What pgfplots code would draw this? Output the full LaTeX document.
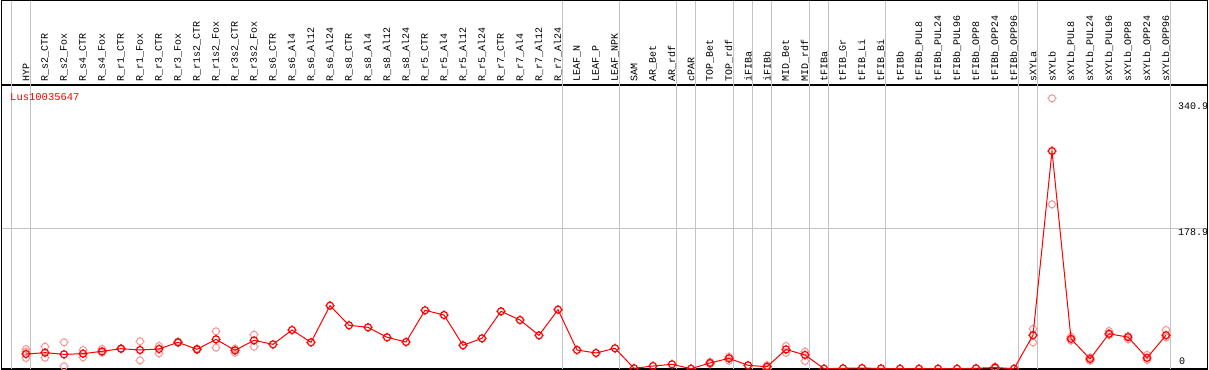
\documentclass[border=0pt]{standalone}
\usepackage{pgfplots}
\pgfplotsset{compat=1.18}
\usepackage{pgfplotstable}
\usepackage{fontspec}
\setmainfont{Liberation Mono}
\setmonofont{Liberation Mono}
\definecolor{gridgray}{RGB}{195,195,195}
\definecolor{reppink}{RGB}{240,150,150}
\pgfdeclareplotmark{xo}{%
  \pgfpathcircle{\pgfpointorigin}{\pgfplotmarksize}%
  \pgfpathmoveto{\pgfqpoint{0pt}{\pgfplotmarksize}}\pgfpathlineto{\pgfqpoint{0pt}{1.3\pgfplotmarksize}}%
  \pgfpathmoveto{\pgfqpoint{0pt}{-\pgfplotmarksize}}\pgfpathlineto{\pgfqpoint{0pt}{-1.3\pgfplotmarksize}}%
  \pgfpathmoveto{\pgfqpoint{\pgfplotmarksize}{0pt}}\pgfpathlineto{\pgfqpoint{1.3\pgfplotmarksize}{0pt}}%
  \pgfpathmoveto{\pgfqpoint{-\pgfplotmarksize}{0pt}}\pgfpathlineto{\pgfqpoint{-1.3\pgfplotmarksize}{0pt}}%
  \pgfusepathqstroke}

\pgfplotstableread{
k v
0 18.7
1 20.4
2 18.3
3 19.1
4 22.1
5 25.5
6 23.8
7 25.1
8 33.6
9 24.7
10 37.4
11 23.4
12 36.1
13 31.0
14 49.3
15 33.6
16 80.3
17 55.3
18 52.7
19 40.0
20 34.0
21 74.4
22 68.4
23 29.8
24 38.7
25 73.1
26 62.0
27 42.5
28 75.2
29 23.8
30 20.0
31 26.0
32 0.5
33 3.4
34 5.6
35 0
36 7.3
37 13.2
38 4.3
39 2.5
40 24.5
41 17.5
42 0
43 0.5
44 0.8
45 0.3
46 0
47 0
48 0
49 0
50 0.5
51 1.5
52 0
53 42.7
54 277.3
55 38.0
56 12.4
57 44.5
58 40.2
59 13.8
60 42.7
}\mainT

\pgfplotstableread{
k v
0 25.0
0 21.5
0 13.6
1 28.0
1 14.0
2 33.6
2 3.0
3 23.8
3 14.5
4 25.1
4 20.4
5 26.0
5 25.0
6 34.9
6 10.7
7 28.9
7 19.6
8 34.5
8 32.8
9 25.5
9 24.0
10 47.6
10 26.8
11 25.5
11 20.4
12 43.3
12 28.0
36 8.5
36 6.0
37 15.3
37 10.2
39 4.5
39 0.5
40 28.9
40 20.2
41 21.7
41 9.8
51 2.5
51 0.5
53 50.6
53 33.6
54 344.4
54 209.4
55 40.8
55 35.7
56 14.5
56 10.2
57 48.0
57 42.9
58 41.7
58 37.5
59 17.5
59 11.1
60 49.3
60 40.0
}\repT

\begin{document}
\begin{tikzpicture}
\begin{axis}[
  scale only axis, width=1206bp, height=284bp,
  xmin=-1.2895, xmax=62.184, ymin=-0.38, ymax=361.4,
  axis line style={black, line width=1.2bp},
  clip mode=individual,
  xtick={0,...,60},
  xticklabels={HYP, R\_s2\_CTR, R\_s2\_Fox, R\_s4\_CTR, R\_s4\_Fox, R\_r1\_CTR, R\_r1\_Fox, R\_r3\_CTR, R\_r3\_Fox, R\_r1s2\_CTR, R\_r1s2\_Fox, R\_r3s2\_CTR, R\_r3s2\_Fox, R\_s6\_CTR, R\_s6\_Al4, R\_s6\_Al12, R\_s6\_Al24, R\_s8\_CTR, R\_s8\_Al4, R\_s8\_Al12, R\_s8\_Al24, R\_r5\_CTR, R\_r5\_Al4, R\_r5\_Al12, R\_r5\_Al24, R\_r7\_CTR, R\_r7\_Al4, R\_r7\_Al12, R\_r7\_Al24, LEAF\_N, LEAF\_P, LEAF\_NPK, SAM, AR\_Bet, AR\_rdf, cPAR, TOP\_Bet, TOP\_rdf, iFIBa, iFIBb, MID\_Bet, MID\_rdf, tFIBa, tFIB\_Gr, tFIB\_Li, tFIB\_Bi, tFIBb, tFIBb\_PUL8, tFIBb\_PUL24, tFIBb\_PUL96, tFIBb\_OPP8, tFIBb\_OPP24, tFIBb\_OPP96, sXYLa, sXYLb, sXYLb\_PUL8, sXYLb\_PUL24, sXYLb\_PUL96, sXYLb\_OPP8, sXYLb\_OPP24, sXYLb\_OPP96},
  xticklabel pos=right,
  xticklabel style={rotate=90, anchor=west, inner sep=0pt, font=\fontsize{10bp}{12bp}\selectfont},
  xticklabel shift=3bp,
  major tick length=0pt,
  ytick={178.9}, yticklabels={},
  ymajorgrids, grid style={gridgray, line width=1bp},
]
\pgfplotsinvokeforeach{-0.789,0.247,28.24,31.24,34.24,35.24,37.24,38.24,39.24,41.24,42.24,45.24,52.24,53.24,60.24}{
  \draw[gridgray, line width=1bp] (axis cs:#1,-0.38) -- ([yshift=84.4bp]axis cs:#1,361.4);
}
\addplot[only marks, reppink, mark=xo, mark size=3.5bp, mark options={line width=1bp}] table[x=k,y=v]{\repT};
\addplot[red, line width=1bp, mark=xo, mark size=3.5bp, mark options={line width=1.2bp}] table[x=k,y=v]{\mainT};
\node[anchor=west, inner sep=0pt, text=red, font=\fontsize{10.5bp}{12bp}\selectfont] at (axis cs:-0.842,346) {Lus10035647};
\node[anchor=north west, inner sep=0pt, font=\fontsize{10bp}{12bp}\selectfont, yshift=-1.5bp] at (axis cs:60.63,340.9) {340.9};
\node[anchor=north west, inner sep=0pt, font=\fontsize{10bp}{12bp}\selectfont, yshift=-0.5bp] at (axis cs:60.63,178.9) {178.9};
\node[anchor=west, inner sep=0pt, font=\fontsize{10bp}{12bp}\selectfont] at (axis cs:60.68,8.9) {0};
\end{axis}
\draw[black, line width=1.2bp] (current axis.north west) -- ++(0,84.4bp) -| (current axis.north east);
\pgfresetboundingbox
\useasboundingbox ([xshift=-1.5bp,yshift=-1bp]current axis.south west) rectangle ([xshift=1.5bp,yshift=85bp]current axis.north east);
\end{tikzpicture}
\end{document}
